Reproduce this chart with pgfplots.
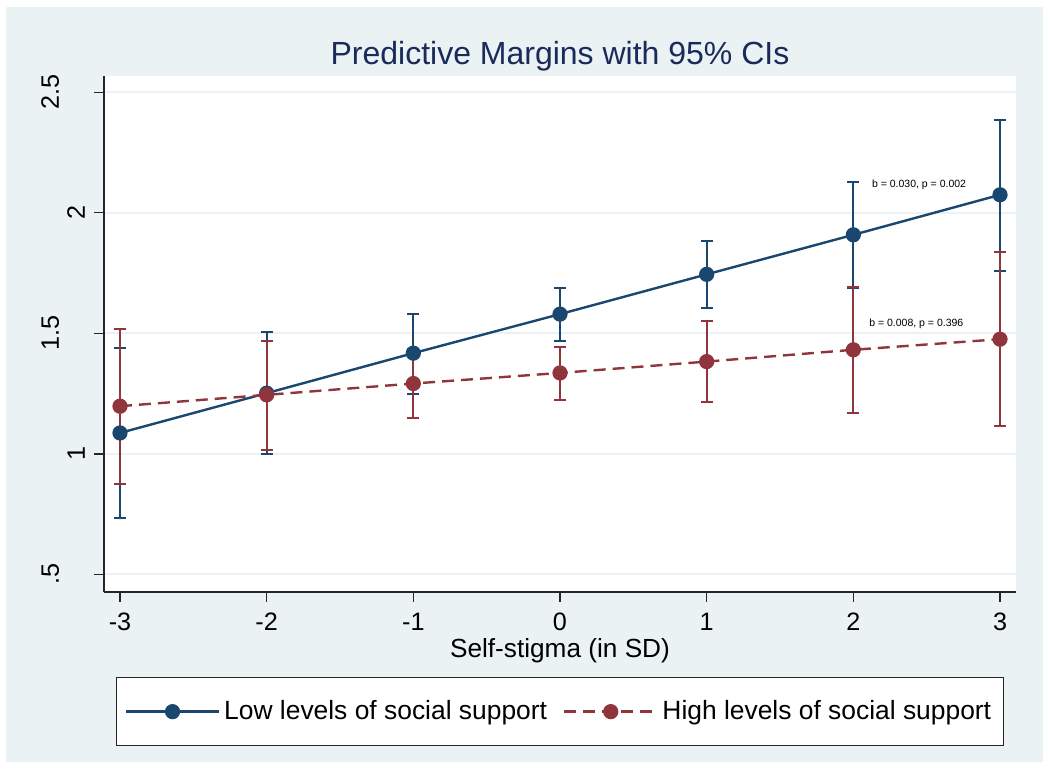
\documentclass[border=0pt]{standalone}
\usepackage{fontspec}
\setmainfont{Liberation Sans}
\usepackage{pgfplots}
\usepackage{pgfplotstable}
\pgfplotsset{compat=1.18}
\definecolor{stnavy}{HTML}{1A476F}
\definecolor{stmaroon}{HTML}{90353B}
\definecolor{stbg}{HTML}{EAF2F3}
\definecolor{sttitle}{HTML}{1A2A5A}

% margins: x, estimate, lower and upper 95% CI
\pgfplotstableread{
x  y     lo    hi
-3 1.087 0.734 1.440
-2 1.252 0.999 1.507
-1 1.418 1.248 1.582
0  1.580 1.469 1.690
1  1.745 1.605 1.882
2  1.909 1.690 2.127
3  2.075 1.759 2.386
}\lowss
\pgfplotstableread{
x  y     lo    hi
-3 1.198 0.875 1.520
-2 1.245 1.017 1.468
-1 1.292 1.151 1.434
0  1.336 1.225 1.445
1  1.383 1.215 1.552
2  1.432 1.170 1.692
3  1.476 1.116 1.836
}\highss

\begin{document}
\begin{tikzpicture}
\fill[white] (0pt,0pt) rectangle (525pt,384pt);
\fill[stbg] (3pt,3pt) rectangle (521.5pt,380.5pt);
\begin{axis}[
  at={(52pt,88pt)}, anchor=south west,
  width=456pt, height=258pt, scale only axis,
  xmin=-3.109, xmax=3.109, ymin=0.427, ymax=2.568,
  axis background/.style={fill=white},
  axis x line*=bottom, axis y line*=left,
  axis line style={black!85, line width=0.6pt},
  tick align=outside, major tick length=5pt,
  tick style={black!85, line width=0.6pt},
  xtick={-3,-2,-1,0,1,2,3},
  xticklabels={-3,-2,-1,0,1,2,3},
  ytick={0.5,1,1.5,2,2.5},
  yticklabels={{\raisebox{13pt}{.5}},1,{\raisebox{13pt}{1.5}},2,{\raisebox{13pt}{2.5}}},
  ymajorgrids, grid style={stbg, line width=1pt},
  tick label style={font=\fontsize{12.6}{14}\selectfont},
  x tick label style={yshift=-2pt},
  y tick label style={xshift=-1pt, rotate=90, anchor=south},
  title={Predictive Margins with 95\% CIs},
  title style={at={(0.5,1)}, anchor=center, yshift=4pt,
    font=\fontsize{16}{19}\selectfont, text=sttitle},
  xlabel={Self-stigma (in SD)},
  xlabel style={at={(0.5,0)}, anchor=center, yshift=-29.5pt,
    font=\fontsize{13.1}{15}\selectfont},
  legend columns=2,
  legend style={at={(0.5,-0.1647)}, anchor=north, draw=black!85,
    line width=0.6pt, fill=white, font=\fontsize{13.2}{15}\selectfont,
    inner xsep=4pt, inner ysep=9.5pt,
    /tikz/every even column/.append style={column sep=6pt}},
  legend image code/.code={\draw[mark repeat=2,mark phase=2,#1]
    plot coordinates {(0pt,0pt) (23.25pt,0pt) (46.5pt,0pt)};},
]
% confidence intervals
\addplot[only marks, mark=none, forget plot,
  error bars/.cd, y dir=both, y explicit, error mark=|,
  error bar style={stnavy, line width=1pt},
  error mark options={stnavy, line width=1pt, mark size=3pt}]
  table[x=x, y=y, y error plus expr=\thisrow{hi}-\thisrow{y},
        y error minus expr=\thisrow{y}-\thisrow{lo}] {\lowss};
\addplot[only marks, mark=none, forget plot,
  error bars/.cd, y dir=both, y explicit, error mark=|,
  error bar style={stmaroon, line width=1pt},
  error mark options={stmaroon, line width=1pt, mark size=3pt}]
  table[x=x, y=y, y error plus expr=\thisrow{hi}-\thisrow{y},
        y error minus expr=\thisrow{y}-\thisrow{lo}] {\highss};
% margins
\addplot[stnavy, line width=1.2pt, mark=*, mark size=3.2pt,
  mark options={solid, fill=stnavy}] table[x=x, y=y] {\lowss};
\addlegendentry{Low levels of social support}
\addplot[stmaroon, line width=1.2pt, dash pattern=on 6pt off 3.5pt,
  mark=*, mark size=3.2pt, mark options={solid, fill=stmaroon}]
  table[x=x, y=y] {\highss};
\addlegendentry{High levels of social support}

\node[anchor=west, inner sep=0pt, font=\fontsize{5.25}{6}\selectfont]
  at (axis cs:2.125,2.116) {b = 0.030, p = 0.002};
\node[anchor=west, inner sep=0pt, font=\fontsize{5.25}{6}\selectfont]
  at (axis cs:2.106,1.54) {b = 0.008, p = 0.396};
\end{axis}
\end{tikzpicture}
\end{document}
